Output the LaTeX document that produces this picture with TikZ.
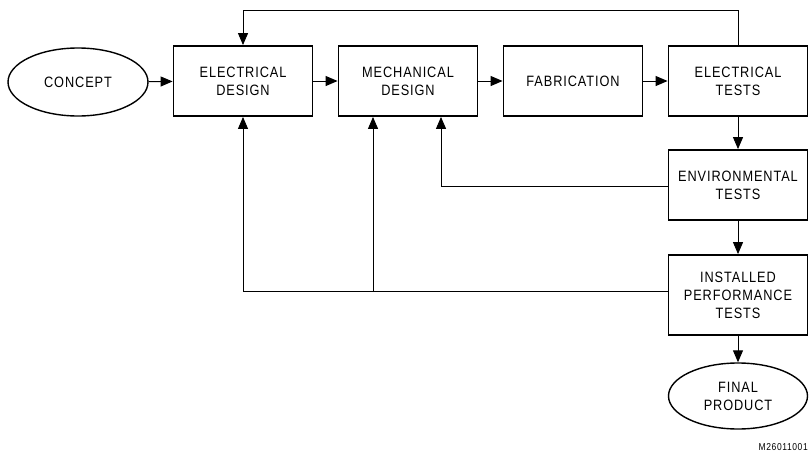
\documentclass[tikz,border=0pt]{standalone}
\usepackage{fontspec}
\setmainfont{Liberation Sans}[LetterSpace=6,FakeStretch=0.85]
\usetikzlibrary{arrows.meta,shapes.geometric}
\tikzset{
  blk/.style={draw, line width=1.8pt, minimum width=139pt, minimum height=70pt, align=center, font=\fontsize{15}{18}\selectfont, inner sep=0pt},
  oval/.style={draw, ellipse, line width=1.4pt, minimum width=140pt, minimum height=68pt, align=center, font=\fontsize{15}{18}\selectfont, inner sep=0pt},
  conn/.style={line width=1pt, -{Triangle[length=12pt,width=10pt]}},
}
\begin{document}
\begin{tikzpicture}[x=1pt,y=-1pt]
\useasboundingbox (0,0) rectangle (809,458);
\node[oval] (concept) at (78,82) {CONCEPT};
\node[blk] (ed) at (243,81) {ELECTRICAL\\DESIGN};
\node[blk] (md) at (408,81) {MECHANICAL\\DESIGN};
\node[blk] (fab) at (573,81) {FABRICATION};
\node[blk] (et) at (738,81) {ELECTRICAL\\TESTS};
\node[blk] (env) at (738,185) {ENVIRONMENTAL\\TESTS};
\node[blk, minimum height=80pt] (ipt) at (738,295) {INSTALLED\\PERFORMANCE\\TESTS};
\node[oval, minimum width=139pt, minimum height=66pt] (fp) at (738,396) {FINAL\\PRODUCT};
\node[anchor=east, font=\fontsize{10}{12}\selectfont, inner sep=0pt] (lbl) at (808,447) {M26011001};
\coordinate (top) at (0,10);
\coordinate (envy) at (0,186);
\coordinate (iptl) at (0,291);
\coordinate (mdx) at (373,0);
\coordinate (envx) at (441,0);
\draw[conn] (concept) -- (ed);
\draw[conn] (ed) -- (md);
\draw[conn] (md) -- (fab);
\draw[conn] (fab) -- (et);
\draw[conn] (et) -- (env);
\draw[conn] (env) -- (ipt);
\draw[conn] (ipt) -- (fp);
\draw[conn] (et.north) -- (et.north |- top) -- (ed.north |- top) -- (ed.north);
\draw[conn] (env.west |- envy) -- (envx |- envy) -- (envx |- md.south);
\draw[conn] (ipt.west |- iptl) -- (ed.south |- iptl) -- (ed.south);
\draw[conn] (mdx |- iptl) -- (mdx |- md.south);
\end{tikzpicture}
\end{document}
